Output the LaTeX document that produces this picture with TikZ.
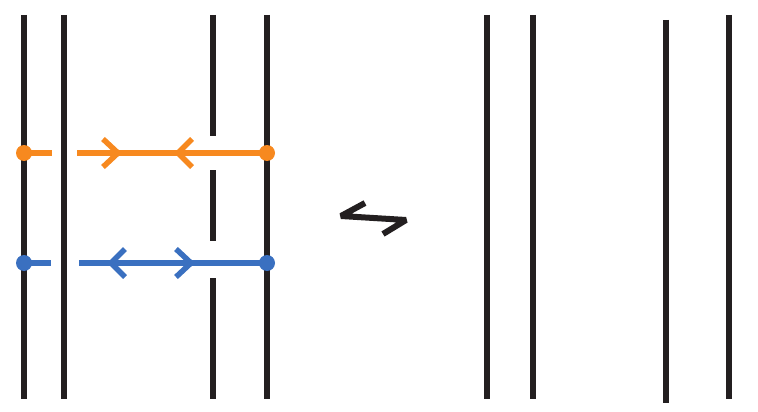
\documentclass[tikz,border=0pt]{standalone}
\definecolor{strand}{HTML}{231F20}
\definecolor{orng}{HTML}{F7891F}
\definecolor{blu}{HTML}{3A70C0}
\tikzset{
  strandline/.style={draw=strand,line width=6pt},
  arc/.style={line width=6pt},
  chev/.style={line width=5.5pt,miter limit=10},
  endpt/.style={circle,inner sep=0pt,minimum size=16pt}
}
\begin{document}
\begin{tikzpicture}[x=1pt,y=-1pt]
\useasboundingbox (0,0) rectangle (758,412);
% left picture strands
\draw[strandline] (24,15) -- (24,399);
\draw[strandline] (64,15) -- (64,399);
\draw[strandline] (213,15) -- (213,136);
\draw[strandline] (213,170) -- (213,241);
\draw[strandline] (213,278) -- (213,399);
\draw[strandline] (267,15) -- (267,399);
% orange arc
\coordinate (oa) at (24,153);
\coordinate (ob) at (267,153);
\coordinate (o1) at (52,153);
\coordinate (o2) at (77,153);
\draw[arc,orng] (oa) -- (o1);
\draw[arc,orng] (o2) -- (ob);
\draw[chev,orng] (103,139) -- (118,153) -- (103,167);
\draw[chev,orng] (192,139) -- (178,153) -- (192,167);
\node[endpt,fill=orng] (oda) at (oa) {};
\node[endpt,fill=orng] (odb) at (ob) {};
% blue arc
\coordinate (ba) at (24,263);
\coordinate (bb) at (267,263);
\coordinate (b1) at (51,263);
\coordinate (b2) at (79,263);
\draw[arc,blu] (ba) -- (b1);
\draw[arc,blu] (b2) -- (bb);
\draw[chev,blu] (125,249) -- (111,263) -- (125,277);
\draw[chev,blu] (176,249) -- (191,263) -- (176,277);
\node[endpt,fill=blu] (bda) at (ba) {};
\node[endpt,fill=blu] (bdb) at (bb) {};
% harpoon symbol
\draw[strand,line width=6pt,line join=bevel] (365,203) -- (341,216) -- (406,220) -- (383,234);
% right picture strands
\draw[strandline] (487,15) -- (487,399);
\draw[strandline] (533,15) -- (533,399);
\draw[strandline] (666,20) -- (666,403);
\draw[strandline] (729,15) -- (729,399);
\end{tikzpicture}
\end{document}
